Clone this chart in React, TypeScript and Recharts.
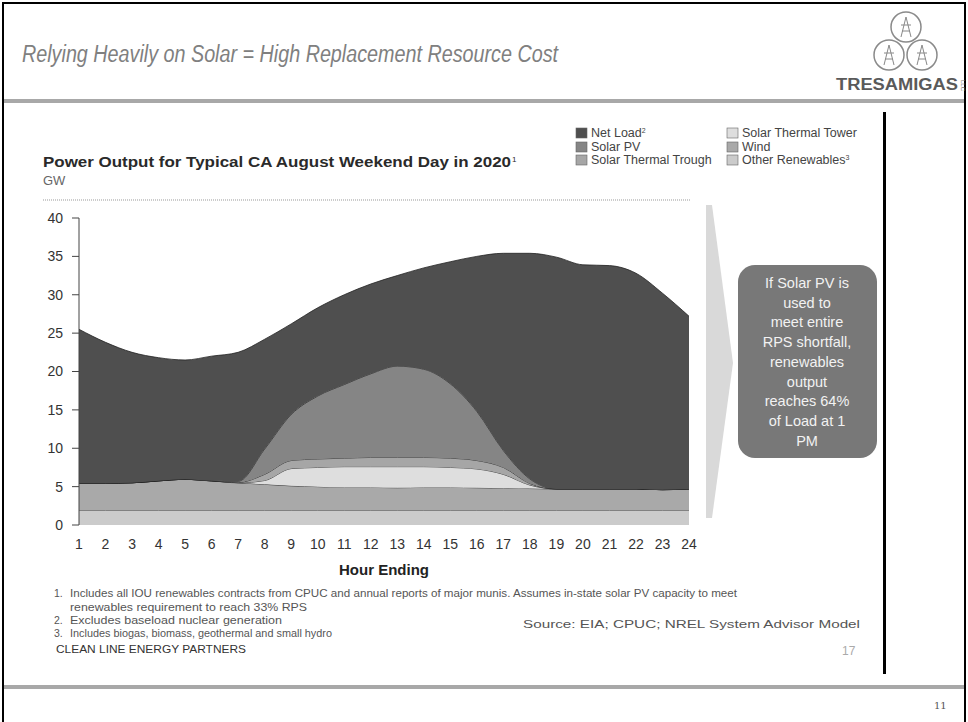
import React from 'react';
import { AreaChart, Area, XAxis, YAxis } from 'recharts';

// ---- data (GW), hour ending 1..24 ----
const hours = [1, 2, 3, 4, 5, 6, 7, 8, 9, 10, 11, 12, 13, 14, 15, 16, 17, 18, 19, 20, 21, 22, 23, 24];
const otherRenewables = [1.9, 1.9, 1.9, 1.9, 1.9, 1.9, 1.9, 1.9, 1.9, 1.9, 1.9, 1.9, 1.9, 1.9, 1.9, 1.9, 1.9, 1.9, 1.9, 1.9, 1.9, 1.9, 1.9, 1.9];
const wind = [3.55, 3.55, 3.6, 3.85, 4.05, 3.85, 3.6, 3.4, 3.2, 3.1, 3.0, 3.0, 2.95, 3.0, 3.0, 2.95, 2.9, 2.85, 2.8, 2.8, 2.8, 2.8, 2.7, 2.8];
const solarThermalTower = [0, 0, 0, 0, 0, 0, 0, 0.5, 2.25, 2.5, 2.7, 2.7, 2.75, 2.7, 2.6, 2.45, 1.8, 0.45, 0, 0, 0, 0, 0, 0];
const solarThermalTrough = [0, 0, 0, 0, 0, 0, 0.05, 0.8, 1.05, 1.1, 1.1, 1.2, 1.2, 1.2, 1.2, 1.1, 0.9, 0.2, 0, 0, 0, 0, 0, 0];
const solarPV = [0, 0, 0, 0, 0, 0, 0.15, 3.3, 6.0, 8.2, 9.6, 10.9, 11.9, 11.5, 9.7, 6.4, 2.2, 0.6, 0, 0, 0, 0, 0, 0];
const netLoad = [20.05, 18.35, 17.0, 16.05, 15.55, 16.25, 16.8, 14.3, 11.8, 11.5, 11.7, 11.7, 11.8, 13.2, 15.9, 20.2, 25.7, 29.4, 30.2, 29.2, 29.1, 28.1, 25.6, 22.5];
const yTicks = [0, 5, 10, 15, 20, 25, 30, 35, 40];

const seriesNames = ['Net Load', 'Solar PV', 'Solar Thermal Trough', 'Solar Thermal Tower', 'Wind', 'Other Renewables'];
const calloutLines = ['If Solar PV is', 'used to', 'meet entire', 'RPS shortfall,', 'renewables', 'output', 'reaches 64%', 'of Load at 1', 'PM'];
const footnotes = [
  'Includes all IOU renewables contracts from CPUC and annual reports of major munis. Assumes in-state solar PV capacity to meet',
  'renewables requirement to reach 33% RPS',
  'Excludes baseload nuclear generation',
  'Includes biogas, biomass, geothermal and small hydro',
];

const data = hours.map((h, i) => ({
  hour: h,
  other: otherRenewables[i],
  wind: wind[i],
  tower: solarThermalTower[i],
  trough: solarThermalTrough[i],
  pv: solarPV[i],
  net: netLoad[i],
}));

const C = {
  net: '#4f4f4f',
  pv: '#858585',
  trough: '#a6a6a6',
  tower: '#dedede',
  wind: '#a9a9a9',
  other: '#cbcbcb',
};

const FONT = "'Liberation Sans', Arial, sans-serif";

export default function App() {
  const legendItems = [
    { name: seriesNames[0], sup: '2', color: C.net, x: 576, y: 133 },
    { name: seriesNames[1], sup: '', color: C.pv, x: 576, y: 147 },
    { name: seriesNames[2], sup: '', color: C.trough, x: 576, y: 160 },
    { name: seriesNames[3], sup: '', color: C.tower, x: 727, y: 133 },
    { name: seriesNames[4], sup: '', color: C.wind, x: 727, y: 147 },
    { name: seriesNames[5], sup: '3', color: C.other, x: 727, y: 160 },
  ];
  const fnRows: Array<[string, number, number, number]> = [
    ['1.', 0, 597, 667],
    ['', 1, 611, 237],
    ['2.', 2, 624, 212],
    ['3.', 3, 637, 262],
  ];
  return (
    <div style={{ position: 'absolute', left: 0, top: 0, width: 968, height: 722, background: '#fff', overflow: 'hidden', fontFamily: FONT }}>
      <svg width={968} height={722} style={{ position: 'absolute', left: 0, top: 0 }}>
        {/* frame */}
        <rect x={3} y={3} width={962} height={740} fill="none" stroke="#000" strokeWidth={2} />
        {/* slide title */}
        <text x={22} y={62} fontSize={23} fontStyle="italic" fill="#808080" textLength={536} lengthAdjust="spacingAndGlyphs">
          Relying Heavily on Solar = High Replacement Resource Cost
        </text>
        {/* logo */}
        <g fill="none" stroke="#8a8a8a" strokeWidth={1.5}>
          <circle cx={906} cy={27} r={15} />
          <circle cx={889} cy={55} r={15} />
          <circle cx={922} cy={55} r={15} />
        </g>
        <g stroke="#888" strokeWidth={1}>
          <path d="M906 17 L901 37 M906 17 L911 37 M901 25 L911 25 M902 31 L910 31" />
          <path d="M889 45 L884 65 M889 45 L894 65 M884 53 L894 53 M885 59 L893 59" />
          <path d="M922 45 L917 65 M922 45 L927 65 M917 53 L927 53 M918 59 L926 59" />
        </g>
        <text x={897} y={90} fontSize={16} fontWeight="bold" fill="#5a5a5a" textAnchor="middle" textLength={122} lengthAdjust="spacingAndGlyphs">TRESAMIGAS</text>
        <text x={0} y={0} fontSize={6} fill="#777" transform="translate(961,80) rotate(90)">LLC</text>
        {/* top rule */}
        <rect x={4} y={99} width={960} height={4} fill="#a8a8a8" />
        {/* legend */}
        {legendItems.map((it) => (
          <g key={it.name}>
            <rect x={it.x} y={it.y - 5} width={11} height={10} fill={it.color} stroke="#666" strokeWidth={0.6} />
            <text x={it.x + 15} y={it.y + 4} fontSize={12.5} fill="#444">
              {it.name}
              {it.sup ? <tspan fontSize={7} dy={-4}>{it.sup}</tspan> : null}
            </text>
          </g>
        ))}
        {/* chart title */}
        <text x={43} y={167} fontSize={14.5} fill="#2a2a2a" fontWeight={600} textLength={468} lengthAdjust="spacingAndGlyphs">
          Power Output for Typical CA August Weekend Day in 2020
        </text>
        <text x={512} y={162} fontSize={8} fill="#2a2a2a">1</text>
        <text x={43} y={185} fontSize={13} fill="#666">GW</text>
        <line x1={43} y1={200} x2={690} y2={200} stroke="#999" strokeWidth={1} strokeDasharray="1 1" />
        {/* x axis title */}
        <text x={384} y={575} fontSize={15} fontWeight="bold" fill="#222" textAnchor="middle">Hour Ending</text>
        {/* chevron arrow */}
        <polygon points="706,205 712,205 733,363 712,518 706,518" fill="#d9d9d9" />
        {/* callout */}
        <rect x={738} y={265} width={139} height={193} rx={17} fill="#787878" />
        {calloutLines.map((t, i) => (
          <text key={t} x={807} y={288 + i * 19.7} fontSize={14.5} fill="#f2f2f2" textAnchor="middle">{t}</text>
        ))}
        {/* right vertical line */}
        <rect x={883} y={112} width={3} height={562} fill="#000" />
        {/* footnotes */}
        {fnRows.map(([n, idx, y, w]) => (
          <g key={String(idx)}>
            {n ? <text x={54} y={y} fontSize={10.5} fill="#555">{n}</text> : null}
            <text x={70} y={y} fontSize={10.5} fill="#555" textLength={w} lengthAdjust="spacingAndGlyphs">{footnotes[idx]}</text>
          </g>
        ))}
        <text x={523} y={628} fontSize={10.5} fill="#555" textLength={337} lengthAdjust="spacingAndGlyphs">Source: EIA; CPUC; NREL System Advisor Model</text>
        <text x={56} y={653} fontSize={10.5} fill="#333" textLength={190} lengthAdjust="spacingAndGlyphs">CLEAN LINE ENERGY PARTNERS</text>
        <text x={842} y={655} fontSize={12} fill="#aaa">17</text>
        {/* bottom rule */}
        <rect x={4} y={685} width={960} height={4} fill="#a8a8a8" />
        <text x={934} y={709} fontSize={10} fill="#555" fontFamily="'DejaVu Serif', serif">11</text>
      </svg>
      <div style={{ position: 'absolute', left: 0, top: 200, width: 720, height: 360 }}>
        <AreaChart width={720} height={360} data={data} margin={{ top: 18, right: 31, left: 0, bottom: 0 }}>
          <XAxis
            dataKey="hour"
            type="number"
            domain={[1, 24]}
            ticks={hours}
            interval={0}
            tickLine={false}
            axisLine={false}
            tickSize={6}
            tickMargin={8}
            height={35}
            tick={{ fontSize: 14, fill: '#333', fontFamily: FONT }}
          />
          <YAxis
            type="number"
            domain={[0, 40]}
            ticks={yTicks}
            interval={0}
            width={79}
            tickSize={7}
            tickMargin={9}
            axisLine={{ stroke: '#444' }}
            tickLine={{ stroke: '#444' }}
            tick={{ fontSize: 14, fill: '#333', fontFamily: FONT }}
          />
          <Area type="monotone" dataKey="other" name={seriesNames[5]} stackId="s" fill={C.other} fillOpacity={1} stroke="#222" strokeWidth={0.8} isAnimationActive={false} dot={false} activeDot={false} />
          <Area type="monotone" dataKey="wind" name={seriesNames[4]} stackId="s" fill={C.wind} fillOpacity={1} stroke="#222" strokeWidth={0.8} isAnimationActive={false} dot={false} activeDot={false} />
          <Area type="monotone" dataKey="tower" name={seriesNames[3]} stackId="s" fill={C.tower} fillOpacity={1} stroke="#222" strokeWidth={0.8} isAnimationActive={false} dot={false} activeDot={false} />
          <Area type="monotone" dataKey="trough" name={seriesNames[2]} stackId="s" fill={C.trough} fillOpacity={1} stroke="#222" strokeWidth={0.8} isAnimationActive={false} dot={false} activeDot={false} />
          <Area type="monotone" dataKey="pv" name={seriesNames[1]} stackId="s" fill={C.pv} fillOpacity={1} stroke="#222" strokeWidth={0.8} isAnimationActive={false} dot={false} activeDot={false} />
          <Area type="monotone" dataKey="net" name={seriesNames[0]} stackId="s" fill={C.net} fillOpacity={1} stroke="#222" strokeWidth={0.8} isAnimationActive={false} dot={false} activeDot={false} />
        </AreaChart>
      </div>
    </div>
  );
}
